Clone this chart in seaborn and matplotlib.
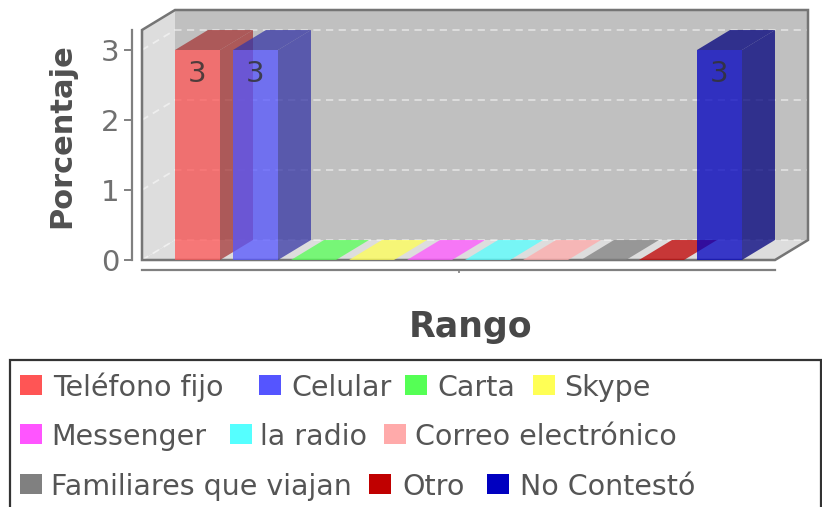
import matplotlib
matplotlib.use("Agg")
import matplotlib.pyplot as plt
from matplotlib.patches import Polygon, Rectangle
from matplotlib.colors import to_rgb
import pandas as pd
import seaborn as sns

SERIES = ["Teléfono fijo", "Celular", "Carta", "Skype", "Messenger", "la radio",
          "Correo electrónico", "Familiares que viajan", "Otro", "No Contestó"]
VALUES = [3, 3, 0, 0, 0, 0, 0, 0, 0, 3]
COLORS = ["#FF5555", "#5555FF", "#55FF55", "#FFFF55", "#FF55FF", "#55FFFF",
          "#FFAAAA", "#808080", "#C00000", "#0000C0"]
YTICKS = [0, 1, 2, 3]
YLABEL = "Porcentaje"
XLABEL = "Rango"

W, H = 822, 507
ALPHA = 0.75
sns.set_theme(style="white")
plt.rcParams["font.family"] = ["DejaVu Sans"]

fig = plt.figure(figsize=(W / 100, H / 100), dpi=100, facecolor="white")
L, R, T, B = 142, 775, 30, 260
ax = fig.add_axes([L / W, 1 - B / H, (R - L) / W, (B - T) / H])
ax.patch.set_visible(False)

df = pd.DataFrame({"serie": SERIES, "valor": VALUES})
sns.barplot(data=df, x="serie", y="valor", hue="serie", order=SERIES, hue_order=SERIES,
            palette=dict(zip(SERIES, COLORS)), width=45 / 58, dodge=False, legend=False,
            errorbar=None, ax=ax, alpha=ALPHA, linewidth=0, saturation=1)

STEP = 58
PX_UNIT = 70
xmin, xmax = (L - 197.5) / STEP, (R - 197.5) / STEP
ymax = (B - T) / PX_UNIT
ax.set_xlim(xmin, xmax)
ax.set_ylim(0, ymax)
dx, dy = 33 / STEP, 20 / PX_UNIT


def poly(points, **kw):
    p = Polygon(points, closed=True, transform=ax.transData, clip_on=False, **kw)
    ax.add_patch(p)
    return p


# walls and floor
poly([(xmin, 0), (xmin + dx, dy), (xmin + dx, ymax + dy), (xmin, ymax)],
     facecolor="#DDDDDD", edgecolor="none", zorder=0.1)
poly([(xmin, 0), (xmin + dx, dy), (xmax + dx, dy), (xmax, 0)],
     facecolor="#DDDDDD", edgecolor="none", zorder=0.1)
poly([(xmin + dx, dy), (xmin + dx, ymax + dy), (xmax + dx, ymax + dy), (xmax + dx, dy)],
     facecolor="#C0C0C0", edgecolor="none", zorder=0.2)
for v in YTICKS:
    ax.plot([xmin, xmin + dx, xmax + dx], [v, v + dy, v + dy], color="white", lw=1.3,
            ls=(0, (4, 3)), alpha=0.5, clip_on=False, zorder=0.5)
poly([(xmin, 0), (xmin, ymax), (xmin + dx, ymax + dy), (xmax + dx, ymax + dy),
      (xmax + dx, dy), (xmax, 0)],
     facecolor="none", edgecolor="#757575", lw=1.8, joinstyle="miter", zorder=0.6)

# 3D faces derived from the seaborn bars
bars = [p for c in ax.containers for p in c]
bars = sorted(bars, key=lambda r: r.get_x())
for i, (rect, col) in enumerate(zip(bars, COLORS)):
    x0, x1 = rect.get_x(), rect.get_x() + rect.get_width()
    h = rect.get_height()
    z = 2 + i * 0.1
    rgb = to_rgb(col)
    dark = tuple(c * 0.65 for c in rgb)
    if h > 0:
        poly([(x1, 0), (x1 + dx, dy), (x1 + dx, h + dy), (x1, h)], facecolor=dark,
             alpha=ALPHA, edgecolor="none", zorder=z + 0.01)
        poly([(x0, h), (x0 + dx, h + dy), (x1 + dx, h + dy), (x1, h)], facecolor=dark,
             alpha=ALPHA, edgecolor="none", zorder=z + 0.02)
        rect.set_zorder(z + 0.03)
        ax.annotate(f"{VALUES[i]}", xy=((x0 + x1) / 2, h), xytext=(-0.5, -24 * 0.72),
                    textcoords="offset points", ha="center", va="center", fontsize=21,
                    color="#333333", alpha=0.85, zorder=z + 0.04)
    else:
        poly([(x0, 0), (x0 + dx, dy), (x1 + dx, dy), (x1, 0)], facecolor=col, alpha=ALPHA,
             edgecolor="none", zorder=z)

# axes
ax.spines[["top", "right"]].set_visible(False)
for s, pos in (("left", 10), ("bottom", 10)):
    ax.spines[s].set_visible(True)
    ax.spines[s].set_position(("outward", pos * 0.72))
    ax.spines[s].set_color("#808080")
    ax.spines[s].set_linewidth(1.6)
ax.set_yticks(YTICKS)
ax.set_xticks([(xmin + xmax) / 2])
ax.set_xticklabels([""])
ax.tick_params(axis="y", direction="out", length=8 * 0.72, width=1.4, color="#808080",
               labelsize=21, labelcolor="#707070", pad=3, left=True)
ax.tick_params(axis="x", direction="out", length=3 * 0.72, width=1.2, color="#808080",
               bottom=True)
ax.set_xlabel("")
ax.set_ylabel("")


def fx(px):
    return px / W


def fy(py):
    return 1 - py / H


fig.text(fx(62), fy(136), YLABEL, rotation=90, ha="center", va="center", fontsize=22,
         fontweight="semibold", color="#505050")
fig.text(fx(471), fy(327), XLABEL, ha="center", va="center", fontsize=25,
         fontweight="bold", color="#484848")

# legend (flow layout, rows of unequal widths)
fig.add_artist(Rectangle((fx(10), fy(520)), fx(811), (520 - 360) / H, transform=fig.transFigure,
                         facecolor="white", edgecolor="#333333", lw=1.6, zorder=1))
ROWS = [
    [(0, 20, 53), (1, 259, 291), (2, 405, 437), (3, 533, 564)],
    [(4, 20, 51), (5, 230, 260), (6, 384, 415)],
    [(7, 20, 51), (8, 369, 402), (9, 487, 520)],
]
for row, (top, ty) in zip(ROWS, [(375, 396), (424, 445), (474, 495)]):
    for idx, sx, tx in row:
        fig.add_artist(Rectangle((fx(sx), fy(top + 20)), 22 / W, 20 / H,
                                 transform=fig.transFigure, facecolor=COLORS[idx],
                                 edgecolor="none", zorder=2))
        fig.text(fx(tx), fy(ty), SERIES[idx], ha="left", va="baseline", fontsize=20.5,
                 color="#555555", zorder=3)

fig.savefig("out.png", dpi=100, facecolor="white")
